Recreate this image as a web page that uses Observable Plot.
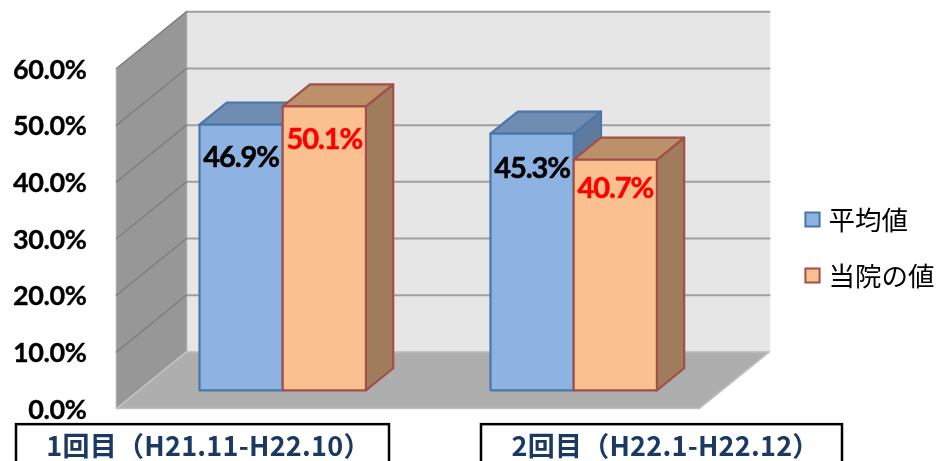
<!DOCTYPE html>
<html><head><meta charset="utf-8">
<script src="https://cdn.jsdelivr.net/npm/d3@7"></script>
<script src="https://cdn.jsdelivr.net/npm/@observablehq/plot@0.6"></script>
<style>html,body{margin:0;background:#fff}svg{display:block;filter:blur(0.45px)}
.tight text{letter-spacing:-1.1px}
svg [aria-label="y-axis tick label"] text{letter-spacing:-0.4px;stroke:#000;stroke-width:.35px}
.period text{letter-spacing:0.25px}
</style>
</head><body><div id="chart"></div>
<script>
// --- data
const periods = ["1回目（H21.11-H22.10）", "2回目（H22.1-H22.12）"];
const seriesNames = ["平均値", "当院の値"];
const averageValues = [46.9, 45.3];
const hospitalValues = [50.1, 40.7];
const yTicks = [0, 10, 20, 30, 40, 50, 60];

// --- oblique-projection layout (x in px along the floor, y in percent, d = depth 0..1)
const DX = 70, DY = 10;
const project = (x, v, d) => ({x: x + d * DX, y: v + d * DY});
const wallX0 = 116, wallX1 = 699, wallTop = 60;
const barD0 = 0.32, barD1 = 0.71, barW = 83.2;
const groupX = [176.6, 467.6];
const labelDrop = [[5.8, 5.8], [6.1, 5.2]];

const poly = (id, pts) => pts.map(([x, v, d]) => ({id, ...project(x, v, d)}));
const barFaces = (x0, v, id) => {
  const x1 = x0 + barW;
  return {
    side: poly(id, [[x1,0,barD0],[x1,0,barD1],[x1,v,barD1],[x1,v,barD0]]),
    top: poly(id, [[x0,v,barD0],[x1,v,barD0],[x1,v,barD1],[x0,v,barD1]]),
    front: poly(id, [[x0,0,barD0],[x1,0,barD0],[x1,v,barD0],[x0,v,barD0]])
  };
};
const face = (data, fill, stroke, strokeWidth = 2.2) =>
  Plot.line(data, {x: "x", y: "y", z: "id", curve: "linear-closed", fill, stroke, strokeWidth});

const styles = [
  {front: "#8db3e2", top: "#6f8db3", side: "#5e7b9f", stroke: "#4a76a8"},
  {front: "#fbc08f", top: "#bc9069", side: "#a07c5c", stroke: "#a24f49"}
];
const seriesVals = [averageValues, hospitalValues];
const barMarks = [];
const labels = [];
periods.forEach((_, g) => {
  seriesVals.forEach((vals, s) => {
    const x0 = groupX[g] + s * barW, f = barFaces(x0, vals[g], `${g}-${s}`), st = styles[s];
    barMarks.push(face(f.side, st.side, st.stroke), face(f.top, st.top, st.stroke), face(f.front, st.front, st.stroke));
    labels.push({...project(x0 + barW / 2, vals[g] - labelDrop[g][s], barD0), v: vals[g], s});
  });
});

const gridBack = yTicks.slice(1).flatMap(t => [
  {id: t, ...project(wallX0, t, 1)}, {id: t, ...project(wallX1, t, 1)}
]);
const gridSide = yTicks.slice(1).flatMap(t => [
  {id: t, ...project(wallX0, t, 0)}, {id: t, ...project(wallX0, t, 1)}
]);
const boxes = [{x1: 16, x2: 389, c: 208, label: periods[0]}, {x1: 481, x2: 842, c: 665, label: periods[1]}];

const font = "Lato, 'Open Sans', sans-serif";
const cjk = "'Noto Sans CJK JP', sans-serif";
const labelColor = d => d.s ? "#ff0000" : "#000000";

const plot = Plot.plot({
  width: 936, height: 461,
  marginLeft: 116, marginRight: 0, marginTop: 0, marginBottom: 0,
  x: {domain: [116, 936], range: [116, 936], axis: null},
  y: {domain: [0, 60], range: [408, 68], axis: null},
  style: {background: "#fff", fontFamily: font},
  marks: [
    // walls
    Plot.line(poly("back", [[wallX0,0,1],[wallX1,0,1],[wallX1,wallTop,1],[wallX0,wallTop,1]]),
      {x: "x", y: "y", z: "id", curve: "linear-closed", fill: "#e6e6e6", stroke: "#e6e6e6"}),
    Plot.line(poly("left", [[wallX0,0,0],[wallX0,0,1],[wallX0,wallTop,1],[wallX0,wallTop,0]]),
      {x: "x", y: "y", z: "id", curve: "linear-closed", fill: "#979797", stroke: "#a8a8a8"}),
    Plot.line(poly("floor", [[wallX0,0,0],[wallX1,0,0],[wallX1,0,1],[wallX0,0,1]]),
      {x: "x", y: "y", z: "id", curve: "linear-closed", fill: "#aeaeae", stroke: "#c4c4c4"}),
    Plot.line(gridBack, {x: "x", y: "y", z: "id", stroke: "#9f9f9f", strokeWidth: 2}),
    Plot.line(gridSide, {x: "x", y: "y", z: "id", stroke: "#808080", strokeWidth: 1.5}),
    Plot.axisY({ticks: yTicks, tickSize: 0, tickPadding: 30, label: null, dy: 1.5,
      tickFormat: d => d.toFixed(1) + "%", fontSize: 27, fontWeight: "bold", fill: "#000",
      fontFamily: font}),
    ...barMarks,
    Plot.text(labels, {x: "x", y: "y", text: d => d.v.toFixed(1) + "%", fontSize: 29, fontWeight: "bold",
      fontFamily: font, className: "tight", fill: labelColor, stroke: labelColor, strokeWidth: 0.5}),
    // category boxes
    Plot.rect(boxes, {x1: "x1", x2: "x2", y1: -2.85, y2: -12, fill: "#fff", stroke: "#000", strokeWidth: 2.5}),
    Plot.text(boxes, {x: "c", y: -6.85, text: "label", fontSize: 27, fontWeight: "bold", fontFamily: cjk,
      className: "period", fill: "#1a3a63"}),
    // legend (dx is measured from the left margin of the frame)
    ...seriesNames.flatMap((name, i) => [
      Plot.dot([name], {frameAnchor: "top-left", dx: 696, dy: 219 + i * 56, symbol: "square", r: 8,
        fill: styles[i].front, stroke: styles[i].stroke, strokeWidth: 2}),
      Plot.text([name], {frameAnchor: "top-left", dx: 712, dy: 221 + i * 56, lineAnchor: "middle", textAnchor: "start",
        text: d => d, fontSize: 26.5, fontFamily: cjk, fill: "#000"})
    ])
  ]
});
document.getElementById("chart").append(plot);
</script>
</body></html>
